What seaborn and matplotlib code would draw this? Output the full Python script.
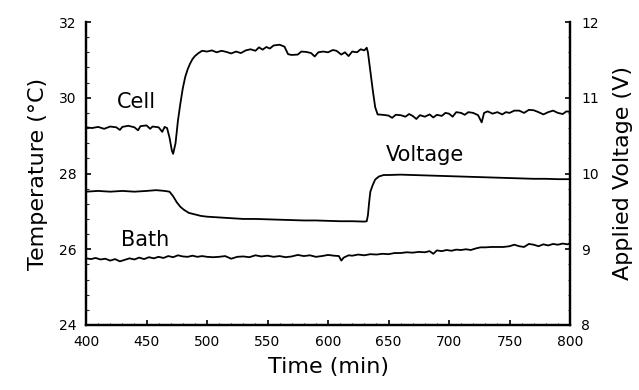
import numpy as np
import pandas as pd
import matplotlib
matplotlib.use("Agg")
import matplotlib.pyplot as plt
import seaborn as sns
from matplotlib.ticker import MultipleLocator

# ---------------- data ----------------
cell_time = [400, 405, 410, 415, 420, 425, 428, 430, 435, 440, 443, 445, 450, 453, 455, 460,
             463, 465, 467, 469, 471, 472, 474, 476, 478, 480, 482, 484, 486, 488, 490, 493,
             496, 500, 504, 508, 512, 516, 520, 524, 528, 532, 536, 540, 543, 546, 549, 552,
             555, 560, 564, 567, 570, 575, 578, 582, 586, 589, 592, 596, 600, 604, 607, 611,
             614, 617, 620, 624, 627, 630, 632, 633, 635, 637, 639, 641, 645, 650, 653, 656,
             660, 664, 667, 670, 673, 676, 680, 684, 687, 690, 694, 697, 700, 703, 706, 710,
             713, 716, 720, 724, 727, 729, 732, 736, 740, 744, 747, 750, 754, 758, 762, 766,
             770, 774, 778, 782, 786, 790, 794, 797, 800]
cell_temp = [29.22, 29.20, 29.23, 29.18, 29.24, 29.22, 29.15, 29.23, 29.26, 29.22, 29.14, 29.25,
             29.27, 29.18, 29.24, 29.22, 29.10, 29.23, 29.20, 28.95, 28.60, 28.52, 28.80, 29.40,
             29.85, 30.25, 30.55, 30.75, 30.90, 31.02, 31.10, 31.18, 31.24, 31.22, 31.25, 31.20,
             31.24, 31.21, 31.17, 31.22, 31.18, 31.25, 31.28, 31.24, 31.33, 31.27, 31.34, 31.30,
             31.38, 31.40, 31.35, 31.15, 31.13, 31.14, 31.22, 31.21, 31.18, 31.09, 31.20, 31.22,
             31.20, 31.26, 31.24, 31.14, 31.20, 31.10, 31.22, 31.20, 31.28, 31.25, 31.32, 31.20,
             30.70, 30.20, 29.75, 29.56, 29.55, 29.53, 29.47, 29.55, 29.54, 29.50, 29.57, 29.52,
             29.44, 29.54, 29.50, 29.56, 29.48, 29.55, 29.52, 29.60, 29.58, 29.50, 29.62, 29.60,
             29.55, 29.62, 29.60, 29.54, 29.35, 29.60, 29.64, 29.58, 29.62, 29.56, 29.62, 29.60,
             29.66, 29.66, 29.60, 29.68, 29.67, 29.62, 29.56, 29.62, 29.66, 29.60, 29.57, 29.64,
             29.63]

volt_time = [400, 410, 420, 430, 440, 450, 458, 465, 469, 472, 475, 478, 481, 485, 490, 495,
             500, 510, 520, 530, 540, 550, 560, 570, 580, 590, 600, 610, 620, 630, 632, 633,
             634, 635, 637, 639, 642, 646, 650, 660, 670, 680, 690, 700, 710, 720, 730, 740,
             750, 760, 770, 780, 790, 800]
volt_val = [9.76, 9.77, 9.76, 9.77, 9.76, 9.77, 9.78, 9.77, 9.76, 9.70, 9.62, 9.56, 9.52, 9.48,
            9.46, 9.44, 9.43, 9.42, 9.41, 9.40, 9.40, 9.395, 9.39, 9.385, 9.38, 9.38, 9.375,
            9.37, 9.37, 9.365, 9.37, 9.45, 9.62, 9.76, 9.85, 9.92, 9.96, 9.98, 9.98, 9.985,
            9.98, 9.975, 9.97, 9.965, 9.96, 9.955, 9.95, 9.945, 9.94, 9.935, 9.93, 9.93,
            9.925, 9.925]

bath_time = [400, 404, 408, 412, 416, 420, 424, 428, 432, 436, 440, 444, 448, 452, 456, 460,
             464, 468, 472, 476, 480, 484, 488, 492, 496, 500, 505, 510, 515, 520, 525, 530,
             535, 540, 545, 550, 555, 560, 565, 570, 575, 580, 585, 590, 595, 600, 605, 609,
             611, 613, 617, 620, 625, 630, 635, 640, 645, 650, 655, 660, 665, 670, 675, 680,
             684, 687, 690, 694, 698, 702, 706, 710, 714, 718, 722, 726, 730, 735, 740, 745,
             750, 754, 758, 762, 766, 770, 774, 778, 782, 786, 790, 794, 798, 800]
bath_temp = [25.76, 25.74, 25.77, 25.73, 25.75, 25.70, 25.74, 25.68, 25.72, 25.76, 25.73, 25.78,
             25.74, 25.79, 25.76, 25.80, 25.77, 25.82, 25.79, 25.84, 25.81, 25.80, 25.83, 25.80,
             25.82, 25.80, 25.79, 25.80, 25.82, 25.75, 25.80, 25.81, 25.79, 25.84, 25.81, 25.83,
             25.80, 25.82, 25.79, 25.81, 25.85, 25.82, 25.84, 25.80, 25.82, 25.85, 25.83, 25.82,
             25.70, 25.78, 25.84, 25.83, 25.86, 25.84, 25.87, 25.86, 25.88, 25.87, 25.90, 25.90,
             25.92, 25.91, 25.93, 25.92, 25.95, 25.88, 25.97, 25.95, 25.98, 25.96, 25.99, 25.98,
             26.00, 25.98, 26.02, 26.05, 26.05, 26.06, 26.06, 26.06, 26.08, 26.12, 26.08, 26.06,
             26.14, 26.12, 26.08, 26.13, 26.10, 26.14, 26.12, 26.15, 26.13, 26.16]

x_ticks = [400, 450, 500, 550, 600, 650, 700, 750, 800]
temp_ticks = [24, 26, 28, 30, 32]
volt_ticks = [8, 9, 10, 11, 12]

# ---------------- plot ----------------
sns.set_style("ticks")
plt.rcParams['font.family'] = ['DejaVu Sans']
plt.rcParams['text.color'] = 'black'
plt.rcParams['axes.labelcolor'] = 'black'

fig = plt.figure(figsize=(6.39, 3.90), dpi=100)
ax = fig.add_axes([86 / 639, 65 / 390, (570 - 86) / 639, (325 - 22) / 390])
ax2 = ax.twinx()

cell_df = pd.DataFrame({"t": cell_time, "v": cell_temp})
bath_df = pd.DataFrame({"t": bath_time, "v": bath_temp})
volt_df = pd.DataFrame({"t": volt_time, "v": volt_val})

lw = 1.3
sns.lineplot(data=cell_df, x="t", y="v", ax=ax, color="black", linewidth=lw)
sns.lineplot(data=bath_df, x="t", y="v", ax=ax, color="black", linewidth=lw)
sns.lineplot(data=volt_df, x="t", y="v", ax=ax2, color="black", linewidth=lw)

ax.set_xlim(400, 800)
ax.set_ylim(24, 32)
ax2.set_ylim(8, 12)
ax.set_xticks(x_ticks)
ax.set_yticks(temp_ticks)
ax2.set_yticks(volt_ticks)
ax.xaxis.set_minor_locator(MultipleLocator(10))
ax.yaxis.set_minor_locator(MultipleLocator(0.4))
ax2.yaxis.set_minor_locator(MultipleLocator(0.2))

for a in (ax, ax2):
    for s in a.spines.values():
        s.set_linewidth(1.6)
        s.set_color("black")
    a.spines["top"].set_visible(False)
    a.tick_params(which="major", direction="in", length=3.5, width=1.2, labelsize=10,
                  colors="black")
    a.tick_params(which="minor", direction="in", length=1.8, width=0.8)

ax.tick_params(axis="x", pad=7)
ax.tick_params(axis="y", pad=7)
ax2.tick_params(axis="y", pad=8)

ax.set_xlabel("Time (min)", fontsize=16, labelpad=6, color="black")
ax.set_ylabel("Temperature (°C)", fontsize=16, labelpad=8, color="black")
ax2.set_ylabel("Applied Voltage (V)", fontsize=16, labelpad=10, color="black")

ax.text(442, 29.9, "Cell", fontsize=15, ha="center", va="center", color="black")
ax.text(680, 28.5, "Voltage", fontsize=15, ha="center", va="center", color="black")
ax.text(449, 26.25, "Bath", fontsize=15, ha="center", va="center", color="black")

fig.savefig("out.png", dpi=100)
